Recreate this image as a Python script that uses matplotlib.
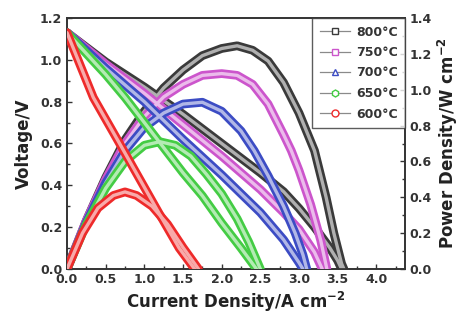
import numpy as np
from matplotlib import pyplot
from matplotlib.lines import Line2D
from matplotlib.ticker import MultipleLocator
from matplotlib.colors import to_rgb

# series (current density in A cm-2)
labels = ["800°C", "750°C", "700°C", "650°C", "600°C"]

i_v800 = [0, 0.5, 1.0, 1.5, 2.0, 2.5, 2.8, 3.0, 3.2, 3.4, 3.5, 3.55]
v800 = [1.13, 0.99, 0.87, 0.74, 0.60, 0.46, 0.37, 0.29, 0.20, 0.10, 0.04, 0.0]
i_p800 = [0, 0.25, 0.5, 0.75, 1.0, 1.25, 1.5, 1.75, 2.0, 2.2, 2.4, 2.6, 2.8, 3.0, 3.2, 3.35, 3.45, 3.55, 3.58]
p800 = [0, 0.27, 0.51, 0.72, 0.88, 1.01, 1.11, 1.19, 1.23, 1.245, 1.22, 1.16, 1.04, 0.87, 0.66, 0.40, 0.20, 0.03, 0.0]

i_v750 = [0, 0.5, 1.0, 1.5, 2.0, 2.5, 2.8, 3.0, 3.2, 3.3]
v750 = [1.13, 0.98, 0.84, 0.69, 0.54, 0.38, 0.27, 0.19, 0.08, 0.0]
i_p750 = [0, 0.25, 0.5, 0.75, 1.0, 1.25, 1.5, 1.75, 2.0, 2.2, 2.4, 2.6, 2.8, 2.9, 3.0, 3.15, 3.28, 3.36]
p750 = [0, 0.27, 0.50, 0.70, 0.85, 0.96, 1.03, 1.08, 1.09, 1.08, 1.03, 0.92, 0.75, 0.66, 0.55, 0.36, 0.16, 0.0]

i_v700 = [0, 0.5, 1.0, 1.5, 2.0, 2.5, 2.8, 3.0, 3.05]
v700 = [1.13, 0.96, 0.80, 0.62, 0.45, 0.27, 0.14, 0.03, 0.0]
i_p700 = [0, 0.25, 0.5, 0.75, 1.0, 1.25, 1.5, 1.75, 2.0, 2.25, 2.42, 2.6, 2.8, 2.95, 3.05, 3.1]
p700 = [0, 0.26, 0.48, 0.66, 0.79, 0.87, 0.92, 0.93, 0.88, 0.77, 0.66, 0.52, 0.35, 0.20, 0.08, 0.0]

i_v650 = [0, 0.25, 0.5, 0.75, 1.0, 1.25, 1.5, 1.75, 2.0, 2.25, 2.45]
v650 = [1.13, 1.03, 0.93, 0.82, 0.70, 0.58, 0.46, 0.35, 0.22, 0.10, 0.0]
i_p650 = [0, 0.25, 0.5, 0.75, 1.0, 1.2, 1.4, 1.6, 1.8, 2.0, 2.2, 2.35, 2.5]
p650 = [0, 0.25, 0.45, 0.60, 0.69, 0.71, 0.69, 0.63, 0.53, 0.42, 0.28, 0.15, 0.0]

i_v600 = [0, 0.34, 0.68, 0.94, 1.2, 1.45, 1.65]
v600 = [1.13, 0.82, 0.60, 0.43, 0.26, 0.10, 0.0]
i_p600 = [0, 0.2, 0.4, 0.6, 0.75, 0.9, 1.1, 1.3, 1.5, 1.65, 1.7]
p600 = [0, 0.20, 0.34, 0.41, 0.43, 0.41, 0.35, 0.25, 0.12, 0.03, 0.0]

volt = [(i_v800, v800), (i_v750, v750), (i_v700, v700), (i_v650, v650), (i_v600, v600)]
power = [(i_p800, p800), (i_p750, p750), (i_p700, p700), (i_p650, p650), (i_p600, p600)]

colors = ["#3a3a3a", "#cc55cc", "#3c4cc4", "#44cc44", "#ee2a2a"]
markers = ["s", "s", "^", "h", "o"]

pyplot.rcParams["font.family"] = ["DejaVu Sans"]
pyplot.rcParams["font.weight"] = "bold"
pyplot.rcParams["mathtext.default"] = "bf"

VMAX = 1.2
PMAX = 1.4


def lighter(c, f=0.6):
	r, g, b = to_rgb(c)
	return (r+(1-r)*f, g+(1-g)*f, b+(1-b)*f)


def band(axis, x, y, c, z):
	"""Thick band that stands in for the dense hollow markers."""
	axis.plot(x, y, color=c, lw=6.3, solid_joinstyle="round", solid_capstyle="round", zorder=z)
	axis.plot(x, y, color=lighter(c), lw=2.4, solid_joinstyle="round", solid_capstyle="round", zorder=z+0.1)


figure = pyplot.figure(figsize=(4.59, 3.2), dpi=100)

ax = figure.add_axes([67/459, 1-269/320, (405-67)/459, (269-18)/320])
ax2 = ax.twinx()

# all bands go on the twin axis so the low-temperature curves stay on top;
# voltages are put into the power scale (both axes share the same height)
for idx in range(len(labels)):
	band(ax2, power[idx][0], power[idx][1], colors[idx], 2+idx)
	vscaled = np.array(volt[idx][1])*PMAX/VMAX
	band(ax2, volt[idx][0], vscaled, colors[idx], 2+idx)

ax.set_xlim(0, 4.37)
ax.set_ylim(0, VMAX)
ax2.set_ylim(0, PMAX)

ax.xaxis.set_major_locator(MultipleLocator(0.5))
ax.xaxis.set_minor_locator(MultipleLocator(0.25))
ax.yaxis.set_major_locator(MultipleLocator(0.2))
ax.yaxis.set_minor_locator(MultipleLocator(0.1))
ax2.yaxis.set_major_locator(MultipleLocator(0.2))
ax2.yaxis.set_minor_locator(MultipleLocator(0.1))

xt = np.arange(0, 4.01, 0.5)
ax.set_xticks(xt)
ax.set_xticklabels([f"{t:.1f}" for t in xt])

for a in (ax, ax2):
	a.tick_params(which="both", direction="in", labelsize=9, width=1, colors="#333333")
	a.tick_params(which="major", length=3.5)
	a.tick_params(which="minor", length=2)
	for s in a.spines.values():
		s.set_linewidth(1.2)
		s.set_color("#333333")

ax.tick_params(axis="x", pad=3)

ax.set_xlabel("Current Density/A cm$^{-2}$", fontsize=12, fontweight="bold", labelpad=3, color="#222222")
ax.set_ylabel("Voltage/V", fontsize=12, fontweight="bold", labelpad=5, color="#222222")
ax2.set_ylabel("Power Density/W cm$^{-2}$", fontsize=12, fontweight="bold", labelpad=3, color="#222222")

handles = [Line2D([], [], color="#8a8a8a", lw=0.9, marker=markers[k], markersize=5,
	markerfacecolor="white", markeredgecolor=colors[k], markeredgewidth=1.0) for k in range(len(labels))]
leg = ax2.legend(handles, labels, loc="upper right", fontsize=9, frameon=True, fancybox=False,
	edgecolor="#333333", handlelength=2.4, handletextpad=0.5, borderpad=0.6, labelspacing=0.6,
	borderaxespad=0)
leg.set_zorder(20)
leg.get_frame().set_linewidth(1.0)
for t in leg.get_texts():
	t.set_fontweight("bold")
	t.set_color("#333333")

figure.savefig("out.png", dpi=100)
